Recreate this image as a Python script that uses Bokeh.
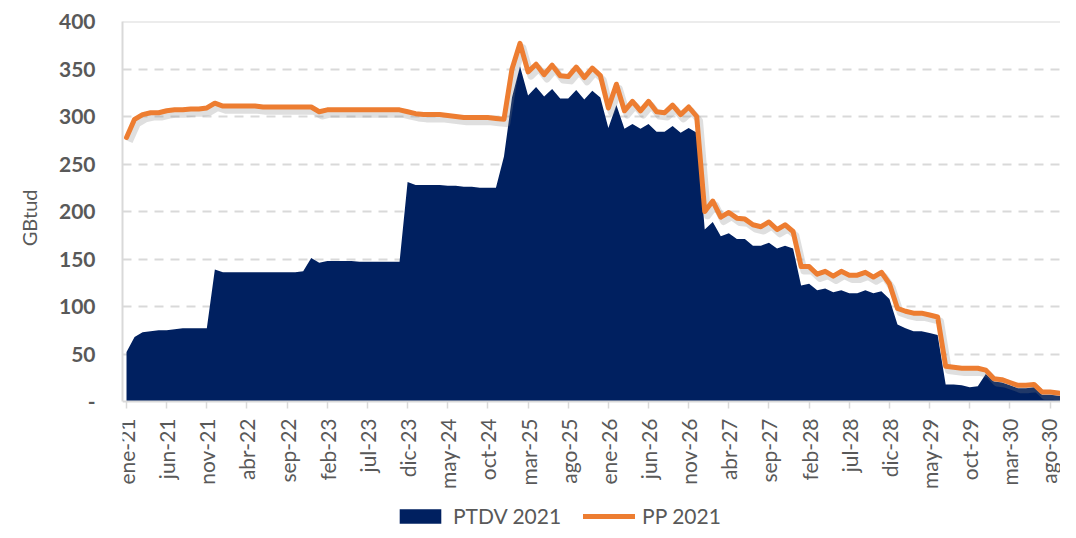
import math
from bokeh.plotting import figure
from bokeh.models import FixedTicker, Legend, LegendItem, Range1d, Span, Title
from bokeh.embed import file_html
from bokeh.resources import INLINE

# ---------------- data (monthly, ene-21 ... oct-30) ----------------
month_names = ["ene", "feb", "mar", "abr", "may", "jun", "jul", "ago", "sep", "oct", "nov", "dic"]

ptdv_2021 = [52, 68, 73, 74, 75, 75, 76, 77, 77, 77, 77, 139,
             136, 136, 136, 136, 136, 136, 136, 136, 136, 136, 137, 151,
             146, 148, 148, 148, 148, 147, 147, 147, 147, 147, 147, 231,
             228, 228, 228, 228, 227, 227, 226, 226, 225, 225, 225, 258,
             320, 353, 322, 331, 321, 329, 319, 319, 328, 318, 327, 320,
             288, 312, 287, 292, 287, 292, 284, 284, 290, 283, 288, 283,
             181, 189, 174, 177, 171, 171, 164, 164, 167, 161, 164, 161,
             122, 124, 117, 119, 115, 117, 114, 114, 117, 114, 116, 108,
             81, 77, 74, 74, 72, 70, 18, 18, 17, 15, 16, 29,
             21, 20, 17, 14, 14, 15, 7, 7, 6, 5]

pp_2021 = [278, 297, 302, 304, 304, 306, 307, 307, 308, 308, 309, 314,
           311, 311, 311, 311, 311, 310, 310, 310, 310, 310, 310, 310,
           305, 307, 307, 307, 307, 307, 307, 307, 307, 307, 307, 305,
           303, 302, 302, 302, 301, 300, 299, 299, 299, 299, 298, 297,
           350, 377, 347, 355, 344, 354, 343, 342, 352, 341, 351, 343,
           309, 334, 306, 316, 306, 316, 305, 304, 312, 302, 310, 300,
           200, 211, 194, 199, 193, 192, 186, 184, 189, 181, 186, 179,
           142, 142, 134, 137, 132, 137, 133, 133, 136, 131, 136, 124,
           98, 95, 93, 93, 91, 89, 37, 36, 35, 35, 35, 33,
           24, 23, 20, 17, 17, 18, 10, 10, 9, 8]

y_ticks = [0, 50, 100, 150, 200, 250, 300, 350, 400]
label_step = 5

# ---------------- derived ----------------
idx = list(range(len(ptdv_2021)))
month_labels = [f"{month_names[i % 12]}-{21 + i // 12}" for i in idx]
x_ticks = idx[::label_step]

# soft drop shadow of the orange line (same data, slightly displaced)
shadow_x = [i + 0.35 for i in idx]
shadow_y = [v - 4.5 for v in pp_2021]

FONT = "Lato"
TXT = "#595959"
GRID = "#d9d9d9"
NAVY = "#002060"
ORANGE = "#ED7D31"

# The frame is extended below the value axis so that the legend can sit
# under the month labels (the x axis is pinned at y = 0).
FIG_W, FIG_H = 1060, 530
TOP, LEFT = 21, 120
frame_h = FIG_H - TOP
px_per_unit = 380 / 400
y_bottom = 400 - frame_h / px_per_unit

p = figure(width=FIG_W, height=FIG_H, output_backend="svg", toolbar_location=None,
           x_range=Range1d(-0.5, 116.3), y_range=Range1d(y_bottom, 400),
           min_border_left=LEFT, min_border_right=0, min_border_top=TOP,
           min_border_bottom=0, background_fill_color="white",
           border_fill_color="white")

area = p.varea(x=idx, y1=0, y2=ptdv_2021, fill_color=NAVY)
p.line(x=shadow_x, y=shadow_y, line_color="#808080", line_alpha=0.25,
       line_width=7, line_join="round")
line = p.line(x=idx, y=pp_2021, line_color=ORANGE, line_width=5,
              line_join="round", line_cap="round")

# ---------------- axes ----------------
p.xaxis.fixed_location = 0
p.xaxis.ticker = FixedTicker(ticks=x_ticks)
p.xaxis.major_label_overrides = {i: month_labels[i] for i in x_ticks}
p.xaxis.major_label_orientation = math.pi / 2
p.xaxis.major_label_text_font = FONT
p.xaxis.major_label_text_font_size = "21px"
p.xaxis.major_label_text_color = TXT
p.xaxis.major_label_standoff = 10
p.xaxis.major_tick_in = 0
p.xaxis.major_tick_out = 7
p.xaxis.major_tick_line_color = GRID
p.xaxis.major_tick_line_width = 1.5
p.xaxis.minor_tick_line_color = None
p.xaxis.axis_line_color = GRID
p.xaxis.axis_line_width = 2

p.yaxis.ticker = FixedTicker(ticks=y_ticks)
p.yaxis.bounds = (0, 400)
p.yaxis.major_label_overrides = {0: "-"}
p.yaxis.major_label_text_font = FONT
p.yaxis.major_label_text_font_size = "21px"
p.yaxis.major_label_text_font_style = "bold"
p.yaxis.major_label_text_color = TXT
p.yaxis.major_label_standoff = 27
p.yaxis.major_tick_in = 0
p.yaxis.major_tick_out = 0
p.yaxis.minor_tick_line_color = None
p.yaxis.axis_line_color = GRID
p.yaxis.axis_line_width = 2

p.add_layout(Title(text="GBtud", align="right", offset=168, standoff=29,
                   text_font=FONT, text_font_size="20px",
                   text_font_style="normal", text_color=TXT), "left")

p.xgrid.grid_line_color = None
p.ygrid.ticker = FixedTicker(ticks=y_ticks[1:-1])
p.ygrid.grid_line_color = GRID
p.ygrid.grid_line_width = 2
p.ygrid.grid_line_dash = "9 7"

p.outline_line_color = None
p.add_layout(Span(location=y_ticks[-1], dimension="width",
                  line_color=GRID, line_width=2))

# ---------------- legend ----------------
legend = Legend(items=[LegendItem(label="PTDV 2021", renderers=[area]),
                       LegendItem(label="PP 2021", renderers=[line])],
                orientation="horizontal", location=(272, 2),
                glyph_width=52, glyph_height=18, label_height=24,
                label_standoff=7, spacing=22, padding=0, margin=0,
                border_line_color=None, background_fill_alpha=0,
                label_text_font=FONT, label_text_font_size="21px",
                label_text_color=TXT)
p.add_layout(legend, "center")

open("out.html", "w").write(file_html(p, INLINE))
